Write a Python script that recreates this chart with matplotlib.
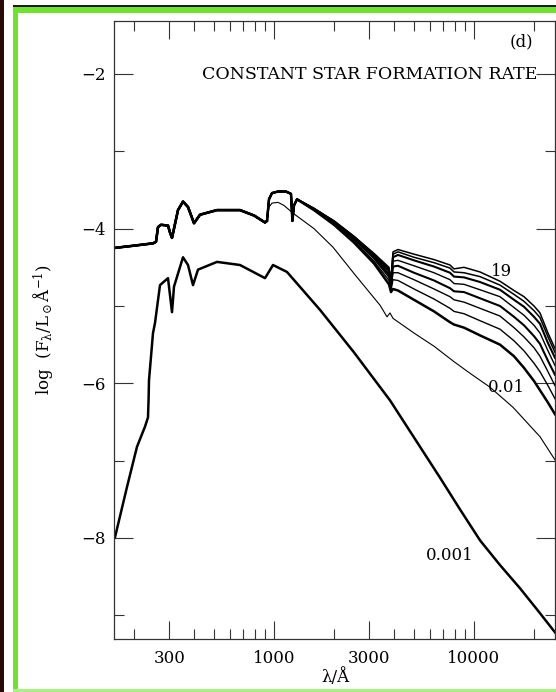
import numpy as np
import matplotlib
matplotlib.use("Agg")
import matplotlib.pyplot as plt
from matplotlib.patches import Rectangle
from matplotlib.ticker import FixedLocator, FixedFormatter, NullFormatter

W, H = 556, 692

# shared far-UV part of the spectra (log lambda, log F)
UV_LOGLAM = [2.20, 2.30, 2.395, 2.41, 2.42, 2.435, 2.47, 2.48, 2.49, 2.50, 2.52,
             2.545, 2.57, 2.59, 2.60, 2.63, 2.715, 2.83, 2.90, 2.955, 2.965]
UV_LOGF = [-4.25, -4.22, -4.19, -4.17, -3.98, -3.95, -3.96, -4.05, -4.12, -4.00, -3.76,
           -3.65, -3.72, -3.86, -3.93, -3.82, -3.76, -3.76, -3.83, -3.92, -3.90]

# 1000 A plateau of the older models
PEAK_LOGLAM = [2.975, 2.99, 3.02, 3.06, 3.085, 3.092, 3.10]
PEAK_LOGF = [-3.62, -3.54, -3.52, -3.52, -3.55, -3.90, -3.70]

# the bundle of older models (top = 19)
BUNDLE_LOGLAM = [3.115, 3.20, 3.30, 3.40, 3.50, 3.575, 3.585, 3.595, 3.62, 3.70, 3.80,
                 3.88, 3.90, 3.95, 4.03, 4.13, 4.20, 4.25, 4.30, 4.33, 4.37, 4.405]
BUNDLE_LOGF = [
    [-3.62, -3.74, -3.90, -4.10, -4.32, -4.50, -4.68, -4.30, -4.27, -4.33, -4.40,
     -4.47, -4.52, -4.50, -4.56, -4.68, -4.80, -4.88, -5.00, -5.09, -5.35, -5.55],
    [-3.62, -3.74, -3.90, -4.10, -4.33, -4.52, -4.70, -4.33, -4.30, -4.37, -4.44,
     -4.51, -4.56, -4.57, -4.62, -4.73, -4.85, -4.94, -5.06, -5.15, -5.40, -5.60],
    [-3.62, -3.74, -3.91, -4.11, -4.34, -4.54, -4.71, -4.37, -4.34, -4.41, -4.49,
     -4.57, -4.62, -4.63, -4.69, -4.79, -4.92, -5.01, -5.14, -5.23, -5.48, -5.67],
    [-3.62, -3.75, -3.91, -4.12, -4.35, -4.57, -4.73, -4.42, -4.41, -4.48, -4.57,
     -4.66, -4.71, -4.72, -4.79, -4.88, -5.02, -5.12, -5.25, -5.35, -5.58, -5.77],
    [-3.62, -3.75, -3.92, -4.13, -4.37, -4.60, -4.75, -4.49, -4.48, -4.57, -4.67,
     -4.77, -4.81, -4.82, -4.90, -5.00, -5.14, -5.25, -5.39, -5.49, -5.71, -5.89],
    [-3.62, -3.75, -3.93, -4.14, -4.39, -4.63, -4.77, -4.57, -4.57, -4.66, -4.78,
     -4.88, -4.92, -4.95, -5.03, -5.13, -5.28, -5.40, -5.54, -5.65, -5.85, -6.03],
    [-3.62, -3.76, -3.94, -4.16, -4.42, -4.67, -4.79, -4.66, -4.67, -4.78, -4.91,
     -5.03, -5.07, -5.10, -5.19, -5.30, -5.45, -5.58, -5.74, -5.85, -6.03, -6.20],
    [-3.62, -3.76, -3.95, -4.18, -4.45, -4.72, -4.82, -4.78, -4.80, -4.92, -5.07,
     -5.21, -5.24, -5.28, -5.38, -5.50, -5.65, -5.80, -5.97, -6.09, -6.25, -6.40],
]
BUNDLE_LW = [1.1, 1.1, 1.5, 1.0, 1.5, 1.0, 1.0, 1.8]

# 0.01 model (thin line) after it leaves the shared UV part
THIN_LOGLAM = [2.975, 2.99, 3.02, 3.05, 3.095, 3.20, 3.295, 3.40, 3.53, 3.565, 3.58,
               3.595, 3.70, 3.80, 3.90, 3.98, 4.08, 4.195, 4.33, 4.405]
THIN_LOGF = [-3.72, -3.67, -3.66, -3.70, -3.80, -4.00, -4.24, -4.58, -4.99, -5.14, -5.09,
             -5.16, -5.35, -5.52, -5.72, -5.87, -6.05, -6.31, -6.69, -6.99]

# 0.001 model
YOUNG_LOGLAM = [2.205, 2.265, 2.315, 2.355, 2.37, 2.373, 2.375, 2.395, 2.405, 2.43, 2.47,
                2.49, 2.50, 2.545, 2.57, 2.595, 2.62, 2.715, 2.83, 2.955, 2.995, 3.065,
                3.23, 3.40, 3.58, 3.70, 3.83, 3.93, 4.03, 4.13, 4.23, 4.32, 4.405]
YOUNG_LOGF = [-7.99, -7.34, -6.82, -6.56, -6.44, -6.20, -5.96, -5.35, -5.22, -4.73, -4.64,
              -5.08, -4.75, -4.37, -4.47, -4.73, -4.53, -4.43, -4.47, -4.64, -4.47, -4.56,
              -5.05, -5.60, -6.22, -6.70, -7.22, -7.63, -8.03, -8.35, -8.65, -8.94, -9.22]

CURVE_LABELS = ["19", "0.01", "0.001"]
LABEL_LOGLAM = [4.14, 4.16, 3.88]
LABEL_LOGF = [-4.55, -6.06, -8.22]

X_MAJOR = [300, 1000, 3000, 10000]
X_MINOR = [200, 400, 500, 600, 700, 800, 900, 2000, 4000, 5000, 6000, 7000, 8000, 9000, 20000]
Y_MAJOR = [-2, -4, -6, -8]
Y_MINOR = [-3, -5, -7, -9]

plt.rcParams["font.family"] = ["DejaVu Serif"]
plt.rcParams["mathtext.fontset"] = "dejavuserif"

fig = plt.figure(figsize=(W / 100, H / 100), dpi=100)
ax = fig.add_axes([114 / W, (H - 639) / H, (555 - 114) / W, (639 - 21) / H])


def lam(v):
    return 10 ** np.asarray(v)


for vals, lw in zip(BUNDLE_LOGF, BUNDLE_LW):
    x = lam(UV_LOGLAM + PEAK_LOGLAM + BUNDLE_LOGLAM)
    y = UV_LOGF + PEAK_LOGF + vals
    ax.plot(x, y, color="black", lw=lw, solid_joinstyle="round")

ax.plot(lam(UV_LOGLAM + THIN_LOGLAM), UV_LOGF + THIN_LOGF, color="black", lw=0.8)
ax.plot(lam(UV_LOGLAM), UV_LOGF, color="black", lw=1.8)
ax.plot(lam(YOUNG_LOGLAM), YOUNG_LOGF, color="black", lw=1.8)

for s, lx, ly in zip(CURVE_LABELS, LABEL_LOGLAM, LABEL_LOGF):
    ax.text(10 ** lx, ly, s, ha="center", va="center", fontsize=12)

ax.set_xscale("log")
ax.set_xlim(10 ** 2.2, 10 ** 4.405)
ax.set_ylim(-9.306, -1.315)

ax.xaxis.set_major_locator(FixedLocator(X_MAJOR))
ax.xaxis.set_major_formatter(FixedFormatter([str(v) for v in X_MAJOR]))
ax.xaxis.set_minor_locator(FixedLocator(X_MINOR))
ax.xaxis.set_minor_formatter(NullFormatter())
ax.yaxis.set_major_locator(FixedLocator(Y_MAJOR))
ax.yaxis.set_minor_locator(FixedLocator(Y_MINOR))
ax.yaxis.set_major_formatter(FixedFormatter(["\u22122", "\u22124", "\u22126", "\u22128"]))

ax.tick_params(which="both", direction="in", top=True, right=True, width=0.8,
               color="#333333", labelsize=12)
ax.tick_params(axis="y", which="major", length=13.5, pad=6)
ax.tick_params(axis="y", which="minor", length=7)
ax.tick_params(axis="x", which="major", length=13, pad=8)
ax.tick_params(axis="x", which="minor", length=7)
for sp in ax.spines.values():
    sp.set_linewidth(0.9)
    sp.set_color("#333333")

ax.text(0.2, 0.913, "CONSTANT STAR FORMATION RATE", transform=ax.transAxes,
        ha="left", va="center", fontsize=12.5)
ax.text(0.925, 0.966, "(d)", transform=ax.transAxes, ha="center", va="center", fontsize=12)

fig.text(335 / W, 1 - 677 / H, "\u03bb/\u00c5", ha="center", va="center", fontsize=12)
fig.text(44 / W, 1 - 330 / H, r"log  ($\mathregular{F_\lambda/L_\odot\AA^{-1}}$)",
         rotation=90, ha="center", va="center", fontsize=12)


def frame(x0, y0, x1, y1, color):
    fig.add_artist(Rectangle((x0 / W, 1 - y1 / H), (x1 - x0) / W, (y1 - y0) / H,
                             transform=fig.transFigure, color=color, lw=0))


frame(0, 0, 4, H, "#2a0808")
frame(13, 5, W, 7, "#1a1a1a")
frame(13, 7, W, 13, "#6fe22c")
frame(13, 7, 18, H, "#6fe22c")
frame(13, 689, W, H, "#a8f080")

fig.savefig("out.png", dpi=100)
